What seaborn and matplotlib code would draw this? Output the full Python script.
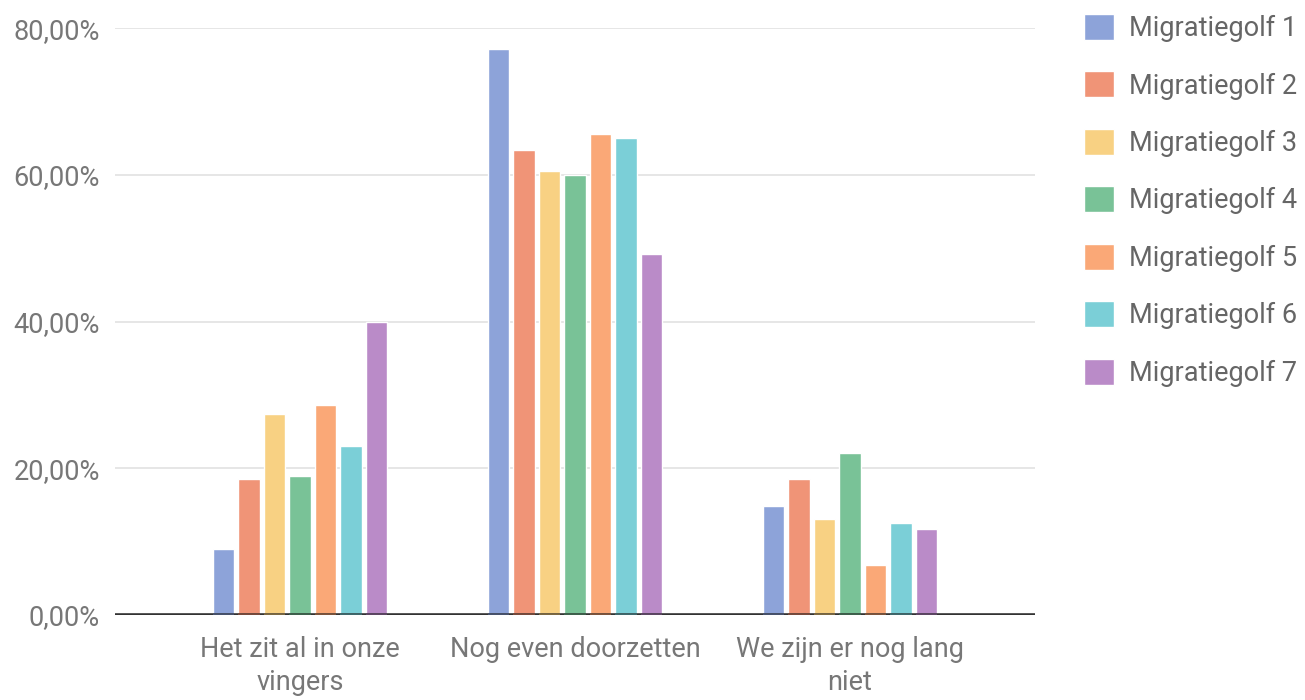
import matplotlib
matplotlib.use("Agg")
import matplotlib.pyplot as plt
from matplotlib.ticker import FuncFormatter
import seaborn as sns
import pandas as pd

categories = ["Het zit al in onze\nvingers", "Nog even doorzetten", "We zijn er nog lang\nniet"]
series = ["Migratiegolf 1", "Migratiegolf 2", "Migratiegolf 3", "Migratiegolf 4",
          "Migratiegolf 5", "Migratiegolf 6", "Migratiegolf 7"]
mg1 = [9.0, 77.2, 14.9]
mg2 = [18.6, 63.4, 18.6]
mg3 = [27.4, 60.6, 13.1]
mg4 = [19.0, 60.0, 22.1]
mg5 = [28.6, 65.6, 6.8]
mg6 = [23.0, 65.1, 12.6]
mg7 = [39.9, 49.2, 11.7]
colors = ["#8DA3D9", "#F09477", "#F8D183", "#79C297", "#FAA877", "#7BCFD7", "#BA8BC8"]

values = [mg1, mg2, mg3, mg4, mg5, mg6, mg7]
rows = []
for s, vals in zip(series, values):
    for c, v in zip(categories, vals):
        rows.append({"cat": c, "series": s, "val": v})
df = pd.DataFrame(rows)

sns.set_theme(style="white")
plt.rcParams['font.family'] = ['Roboto', 'DejaVu Sans']

fig = plt.figure(figsize=(13.05, 7.0), dpi=100)
ax = fig.add_axes([115/1305, 1 - 615/700, (1035-115)/1305, (615-28.3)/700])

sns.barplot(data=df, x="cat", y="val", hue="series", palette=colors,
            width=0.65, gap=0.15, ax=ax, legend=True, saturation=1, errorbar=None)

ax.set_ylim(0, 80)
ax.set_xlim(-0.673, 2.673)
ax.set_yticks([0, 20, 40, 60, 80])
ax.yaxis.set_major_formatter(FuncFormatter(lambda v, p: f"{v:.2f}".replace(".", ",") + "%"))
ax.grid(axis="y", color="#e2e2e2", linewidth=1.2)
ax.set_axisbelow(True)
for sp in ax.spines.values():
    sp.set_visible(False)
ax.axhline(0, color="#333333", linewidth=2.6, zorder=3)

# darker base strip under each bar
for p in ax.patches:
    if p.get_height() > 0:
        fc = p.get_facecolor()
        dark = tuple(c * 0.5 for c in fc[:3])
        ax.plot([p.get_x(), p.get_x() + p.get_width()], [0, 0], color=dark,
                linewidth=2.6, zorder=4, solid_capstyle="butt")

ax.set_xlabel("")
ax.set_ylabel("")
ax.tick_params(axis="y", labelsize=19.5, labelcolor="#777777", length=0, pad=11)
ax.tick_params(axis="x", labelsize=19.5, labelcolor="#777777", length=0, pad=15)
for t in ax.get_xticklabels():
    t.set_linespacing(1.28)

handles, labels = ax.get_legend_handles_labels()
ax.legend(handles, labels, loc="upper left", bbox_to_anchor=(1073/1305, 1 - 3/700),
          bbox_transform=fig.transFigure, frameon=False, fontsize=19.5,
          labelcolor="#666666", handlelength=1.1, handleheight=1.1,
          handletextpad=0.55, labelspacing=1.08, borderaxespad=0)

fig.savefig("out.png", dpi=100)
